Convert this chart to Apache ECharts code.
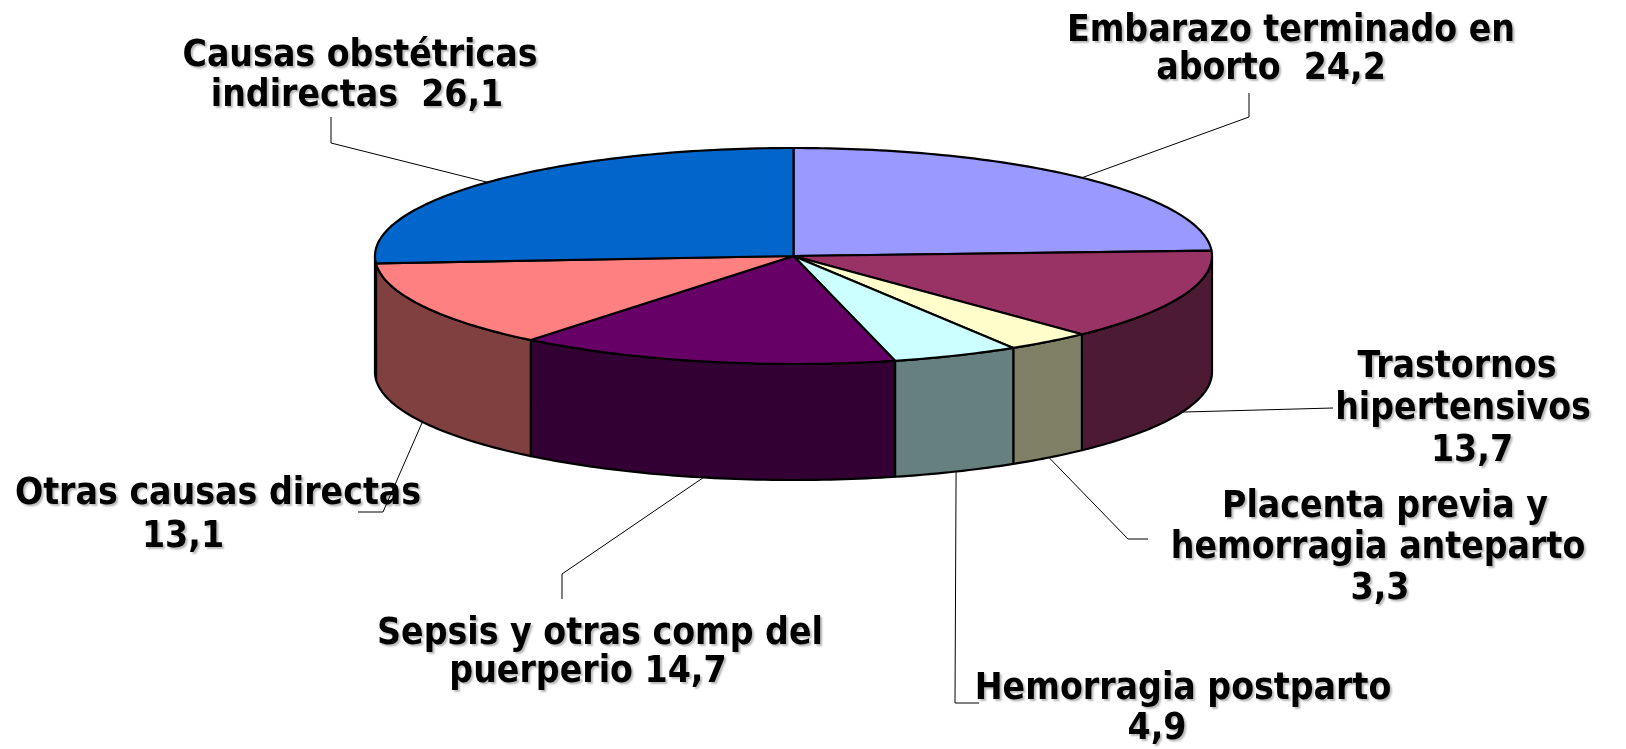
<!DOCTYPE html>
<html>
<head>
<meta charset="utf-8">
<script src="https://cdn.jsdelivr.net/npm/echarts@6/dist/echarts.min.js"></script>
<style>
  html, body { margin: 0; padding: 0; background: #fff; }
  #chart { width: 1626px; height: 749px; }
</style>
</head>
<body>
<div id="chart"></div>
<script>
// slices, clockwise from 12 o'clock
const categories = [
  "Embarazo terminado en aborto",
  "Trastornos hipertensivos",
  "Placenta previa y hemorragia anteparto",
  "Hemorragia postparto",
  "Sepsis y otras comp del puerperio",
  "Otras causas directas",
  "Causas obstétricas indirectas"
]
const values = [24.2, 13.7, 3.3, 4.9, 14.7, 13.1, 26.1]
const labelTexts = [
  "Embarazo terminado en\naborto  {v}",
  "Trastornos\nhipertensivos\n{v}",
  "Placenta previa y\nhemorragia anteparto\n{v}",
  "Hemorragia postparto\n{v}",
  "Sepsis y otras comp del\npuerperio {v}",
  "Otras causas directas\n{v}",
  "Causas obstétricas\nindirectas  {v}"
]
const colors = ["#9999FF", "#993366", "#FFFFCC", "#CCFFFF", "#660066", "#FF8080", "#0066CC"]

// layout of the 3d disc and of the labels (pixels)
const geo = { cx: 793.5, cy: 256, rx: 418.5, ry: 108, depth: 116 }
const labelLayout = [
  { elbow: [[1249, 117], [1249, 93]], xs: [1291, 1271], y: 42, lh: 38 },
  { elbow: [[1333, 408]], xs: [1457, 1463, 1472], y: 378, lh: 42 },
  { elbow: [[1128, 539], [1148, 539]], xs: [1385, 1378, 1380], y: 518, lh: 41 },
  { elbow: [[955, 703], [979, 703]], xs: [1183, 1157], y: 700, lh: 40 },
  { elbow: [[562, 574], [562, 599]], xs: [600, 588], y: 645, lh: 38 },
  { elbow: [[383, 512], [358, 512]], xs: [218, 183], y: 505, lh: 43 },
  { elbow: [[331, 143], [331, 117]], xs: [360, 357], y: 67, lh: 40 }
]
const fontSize = 37

const total = values.reduce((a, b) => a + b, 0)
const starts = []
const ends = []
let acc = 0
values.forEach((v) => {
  starts.push(acc / total * 360)
  acc += v
  ends.push(acc / total * 360)
})

function pt(theta, dy) {
  const a = theta * Math.PI / 180
  return [geo.cx + geo.rx * Math.sin(a), geo.cy - geo.ry * Math.cos(a) + (dy || 0)]
}

function arc(t0, t1, dy) {
  const n = Math.max(2, Math.ceil(t1 - t0))
  const pts = []
  for (let i = 0; i <= n; i++) pts.push(pt(t0 + (t1 - t0) * i / n, dy))
  return pts
}

function darker(hex) {
  const n = parseInt(hex.slice(1), 16)
  const r = (n >> 16) & 255, g = (n >> 8) & 255, b = n & 255
  return `rgb(${Math.round(r / 2)},${Math.round(g / 2)},${Math.round(b / 2)})`
}

function renderItem(params, api) {
  const i = params.dataIndex
  const t0 = starts[i]
  const t1 = ends[i]
  const children = []

  // outer wall, only the front half shows
  const w0 = Math.max(t0, 90)
  const w1 = Math.min(t1, 270)
  if (w1 > w0) {
    children.push({
      type: "polygon",
      z2: 1,
      shape: { points: arc(w0, w1, 0).concat(arc(w0, w1, geo.depth).reverse()) },
      style: { fill: darker(colors[i]), stroke: "#000", lineWidth: 2.2, lineJoin: "round" }
    })
  }

  // top face
  children.push({
    type: "polygon",
    z2: 2,
    shape: { points: [[geo.cx, geo.cy]].concat(arc(t0, t1, 0)) },
    style: { fill: colors[i], stroke: "#000", lineWidth: 2.2, lineJoin: "round" }
  })

  // leader line
  const mid = (t0 + t1) / 2
  const front = mid > 90 && mid < 270
  const lay = labelLayout[i]
  children.push({
    type: "polyline",
    z2: 3,
    shape: { points: [pt(mid, front ? geo.depth : 0)].concat(lay.elbow) },
    style: { stroke: "#000", lineWidth: 1, fill: null }
  })

  // label
  const text = labelTexts[i].replace("{v}", api.value(0).toFixed(1).replace(".", ","))
  text.split("\n").forEach((line, k) => {
    children.push({
      type: "text",
      z2: 4,
      style: {
        text: line,
        x: lay.xs[k],
        y: lay.y + k * lay.lh - fontSize * 0.3,
        align: "center",
        verticalAlign: "middle",
        fill: "#000",
        font: `bold ${fontSize}px "DejaVu Sans Condensed", "DejaVu Sans"`,
        textShadowColor: "rgba(0,0,0,0.28)",
        textShadowBlur: 2,
        textShadowOffsetX: 2,
        textShadowOffsetY: 2
      }
    })
  })

  return { type: "group", children }
}

const chart = echarts.init(document.getElementById("chart"))
chart.setOption({
  animation: false,
  series: [
    {
      type: "custom",
      coordinateSystem: "none",
      renderItem,
      data: values.map((v, i) => ({ name: categories[i], value: v }))
    }
  ]
})
window.addEventListener("resize", () => chart.resize())
</script>
</body>
</html>
